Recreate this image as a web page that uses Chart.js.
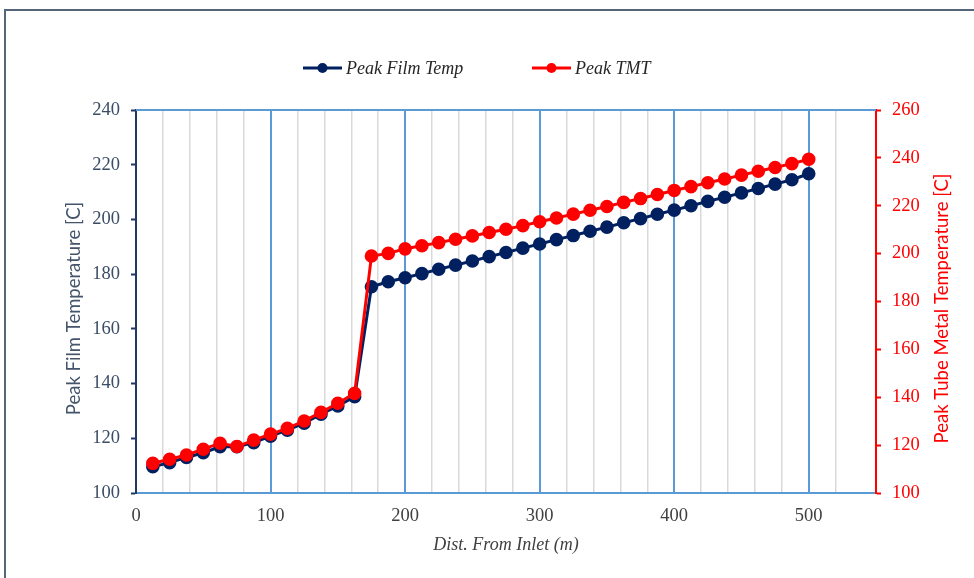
<!DOCTYPE html>
<html>
<head>
<meta charset="utf-8">
<script src="https://cdn.jsdelivr.net/npm/chart.js@4.4.1/dist/chart.umd.min.js"></script>
<style>
  body { margin: 0; background: #fff; }
  #wrap { width: 974px; height: 578px; }
</style>
</head>
<body>
<div id="wrap"><canvas id="myChart" width="974" height="578"></canvas></div>
<script>
// distance from inlet (m)
const dist = [12.5, 25, 37.5, 50, 62.5, 75, 87.5, 100, 112.5, 125,
  137.5, 150, 162.5, 175, 187.5, 200, 212.5, 225, 237.5, 250,
  262.5, 275, 287.5, 300, 312.5, 325, 337.5, 350, 362.5, 375,
  387.5, 400, 412.5, 425, 437.5, 450, 462.5, 475, 487.5, 500];

const filmTemp = [109.6, 111.1, 113.0, 114.7, 116.9, 116.9, 118.4, 120.8, 123.0, 125.5,
  128.8, 131.8, 135.2, 175.4, 177.2, 178.7, 180.2, 181.8, 183.3, 184.8,
  186.4, 187.9, 189.5, 191.0, 192.6, 194.1, 195.7, 197.2, 198.8, 200.3,
  201.9, 203.4, 205.0, 206.6, 208.1, 209.7, 211.3, 212.9, 214.5, 216.7];

const tmt = [112.4, 114.1, 115.9, 118.3, 120.8, 119.4, 122.1, 124.6, 127.0, 130.1,
  133.7, 137.5, 141.6, 199.0, 200.1, 202.0, 203.3, 204.6, 206.0, 207.4,
  208.8, 210.2, 211.7, 213.3, 214.9, 216.5, 218.1, 219.7, 221.4, 223.0,
  224.7, 226.4, 228.0, 229.6, 231.2, 232.8, 234.4, 236.0, 237.6, 239.4];

const seriesNames = ['Peak Film Temp', 'Peak TMT'];
const axisTitles = ['Peak Film Temperature [C]', 'Peak Tube Metal Temperature [C]'];
const navy = '#002060';
const red = '#ff0000';
const blue = '#5b9bd5';

const serif = "'Liberation Serif', serif";
const sans = "Lato, 'Open Sans', sans-serif";

const pts = arr => dist.map((d, i) => ({ x: d, y: arr[i] }));

// outer frame of the chart object
const frame = {
  id: 'frame',
  beforeDraw(chart) {
    const c = chart.ctx;
    c.save();
    c.strokeStyle = '#56667a';
    c.lineWidth = 2;
    c.beginPath();
    c.moveTo(5, 578);
    c.lineTo(5, 10);
    c.lineTo(974, 10);
    c.stroke();
    c.restore();
  }
};

// blue line along the top of the plot area
const topLine = {
  id: 'topLine',
  beforeDatasetsDraw(chart) {
    const a = chart.chartArea;
    const c = chart.ctx;
    c.save();
    c.strokeStyle = blue;
    c.lineWidth = 2;
    c.beginPath();
    c.moveTo(a.left, a.top);
    c.lineTo(a.right, a.top);
    c.stroke();
    c.restore();
  }
};

// both value axis titles read bottom-to-top
const sideTitles = {
  id: 'sideTitles',
  afterDraw(chart) {
    const a = chart.chartArea;
    const c = chart.ctx;
    const mid = (a.top + a.bottom) / 2 + 7;
    [[74, '#44546a', axisTitles[0]], [942, red, axisTitles[1]]].forEach(([x, col, txt]) => {
      c.save();
      c.translate(x, mid);
      c.rotate(-Math.PI / 2);
      c.fillStyle = col;
      c.font = '18.5px ' + sans;
      c.textAlign = 'center';
      c.textBaseline = 'middle';
      c.fillText(txt, 0, 0);
      c.restore();
    });
  }
};

// legend: line with marker, italic serif text
const legendItems = {
  id: 'legendItems',
  afterDraw(chart) {
    const c = chart.ctx;
    const starts = [303, 532];
    const y = 68;
    c.save();
    chart.data.datasets.forEach((ds, i) => {
      const x = starts[i];
      c.strokeStyle = ds.borderColor;
      c.lineWidth = 3;
      c.beginPath();
      c.moveTo(x, y);
      c.lineTo(x + 39, y);
      c.stroke();
      c.fillStyle = ds.backgroundColor;
      c.beginPath();
      c.arc(x + 19.5, y, 5, 0, Math.PI * 2);
      c.fill();
      c.fillStyle = '#262626';
      c.font = 'italic 18px ' + serif;
      c.textBaseline = 'middle';
      c.textAlign = 'left';
      c.fillText(ds.label, x + 43, y + 1);
    });
    c.restore();
  }
};

const ctx = document.getElementById('myChart');

new Chart(ctx, {
  type: 'line',
  data: {
    datasets: [{
      label: seriesNames[0],
      data: pts(filmTemp),
      yAxisID: 'y',
      borderColor: navy,
      backgroundColor: navy,
      borderWidth: 3,
      pointRadius: 5.3,
      pointHoverRadius: 5.3,
      order: 2
    }, {
      label: seriesNames[1],
      data: pts(tmt),
      yAxisID: 'y2',
      borderColor: red,
      backgroundColor: red,
      borderWidth: 3,
      pointRadius: 5.3,
      pointHoverRadius: 5.3,
      order: 1
    }]
  },
  options: {
    responsive: false,
    animation: false,
    layout: { padding: { top: 110, left: 50, right: 10, bottom: 10 } },
    plugins: {
      legend: { display: false },
      tooltip: { enabled: false }
    },
    scales: {
      x: {
        type: 'linear',
        min: 0,
        max: 550,
        afterFit: s => { s.height = 75; },
        border: { color: blue, width: 2 },
        grid: {
          drawTicks: false,
          color: c => (c.tick.value % 100 === 0 ? blue : '#d9d9d9'),
          lineWidth: c => (c.tick.value % 100 === 0 ? 2 : 1.5)
        },
        ticks: {
          stepSize: 20,
          autoSkip: false,
          maxRotation: 0,
          padding: 12,
          color: '#404040',
          font: { family: serif, size: 18.5 },
          callback: v => (v % 100 === 0 ? v : '')
        },
        title: {
          display: true,
          text: 'Dist. From Inlet (m)',
          color: '#404040',
          font: { family: serif, size: 18, style: 'italic' },
          padding: { top: 0, bottom: 12 }
        }
      },
      y: {
        position: 'left',
        min: 100,
        max: 240,
        afterFit: s => { s.width = 86; },
        border: { color: '#1f3864', width: 2 },
        grid: {
          drawOnChartArea: false,
          drawTicks: true,
          tickLength: 5,
          tickColor: '#1f3864',
          tickWidth: 2
        },
        ticks: {
          stepSize: 20,
          padding: 11,
          color: '#3b4c66',
          font: { family: serif, size: 18.5 }
        },
        title: { display: false }
      },
      y2: {
        position: 'right',
        min: 100,
        max: 260,
        afterFit: s => { s.width = 88; },
        border: { color: red, width: 2 },
        grid: {
          drawOnChartArea: false,
          drawTicks: true,
          tickLength: 5,
          tickColor: red,
          tickWidth: 2
        },
        ticks: {
          stepSize: 20,
          padding: 11,
          color: red,
          font: { family: serif, size: 18.5 }
        },
        title: { display: false }
      }
    }
  },
  plugins: [frame, topLine, sideTitles, legendItems]
});
</script>
</body>
</html>
